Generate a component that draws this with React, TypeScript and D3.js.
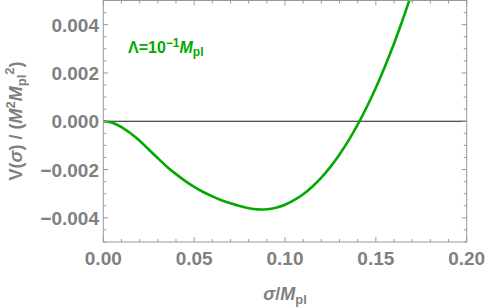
import React, { useEffect, useRef } from "react";
import * as d3 from "d3";

// sigma / M_pl sample points
const sigmaVals = [
  0, 0.005, 0.01, 0.015, 0.02, 0.025, 0.03, 0.035, 0.04, 0.045, 0.05, 0.055,
  0.06, 0.065, 0.07, 0.075, 0.08, 0.085, 0.09, 0.095, 0.1, 0.105, 0.11, 0.115,
  0.12, 0.125, 0.13, 0.135, 0.14, 0.145, 0.15, 0.155, 0.16, 0.165, 0.17,
];
// V(sigma) / (M^2 Mpl^2), in units of 1e-3
const potentialVals = [
  0, -0.06, -0.24, -0.5, -0.81, -1.17, -1.53, -1.88, -2.19, -2.47, -2.72, -2.93,
  -3.11, -3.27, -3.4, -3.51, -3.6, -3.65, -3.645, -3.58, -3.457, -3.271, -3.023,
  -2.711, -2.334, -1.889, -1.376, -0.793, -0.139, 0.588, 1.389, 2.266, 3.22,
  4.253, 5.365,
];
const xTickVals = [0, 0.05, 0.1, 0.15, 0.2];
const xTickLabels = ["0.00", "0.05", "0.10", "0.15", "0.20"];
const yTickVals = [-0.004, -0.002, 0, 0.002, 0.004];
const yTickLabels = ["\u22120.004", "\u22120.002", "0.000", "0.002", "0.004"];

const App = () => {
  const ref = useRef(null);

  useEffect(() => {
    const width = 490;
    const height = 307;
    const left = 103.3;
    const right = 466.7;
    const top = 0.5;
    const bottom = 242;
    const gray = "#999999";
    const labelGray = "#808080";
    const green = "#00aa00";
    const font = "'Liberation Sans', Arial, sans-serif";

    const svg = d3.select(ref.current);
    svg.selectAll("*").remove();
    svg.attr("width", width).attr("height", height);

    const x = d3.scaleLinear().domain([0, 0.2]).range([left, right]);
    const y = d3.scaleLinear().domain([-0.005, 0.005]).range([bottom, top]);

    svg.append("defs").append("clipPath").attr("id", "plotclip")
      .append("rect")
      .attr("x", left).attr("y", top)
      .attr("width", right - left).attr("height", bottom - top);

    // zero line
    svg.append("line")
      .attr("x1", left).attr("x2", right)
      .attr("y1", y(0)).attr("y2", y(0))
      .attr("stroke", "#1a1a1a").attr("stroke-width", 1);

    // curve
    const data = sigmaVals.map((s, i) => [s, potentialVals[i] * 1e-3]);
    const line = d3.line()
      .x((d) => x(d[0]))
      .y((d) => y(d[1]))
      .curve(d3.curveNatural);
    svg.append("path")
      .datum(data)
      .attr("d", line)
      .attr("clip-path", "url(#plotclip)")
      .attr("fill", "none")
      .attr("stroke", green)
      .attr("stroke-width", 2.6);

    // frame
    svg.append("rect")
      .attr("x", left).attr("y", top)
      .attr("width", right - left).attr("height", bottom - top)
      .attr("fill", "none").attr("stroke", gray).attr("stroke-width", 1);

    // ticks on all four sides
    const ticks = svg.append("g").attr("stroke", gray).attr("stroke-width", 1);
    const xMinor = d3.range(0, 0.2001, 0.01);
    xMinor.forEach((v, i) => {
      const len = i % 5 === 0 ? 5 : 3;
      ticks.append("line").attr("x1", x(v)).attr("x2", x(v)).attr("y1", bottom).attr("y2", bottom - len);
      ticks.append("line").attr("x1", x(v)).attr("x2", x(v)).attr("y1", top).attr("y2", top + len);
    });
    const yMinor = d3.range(-0.005, 0.00501, 0.0005);
    yMinor.forEach((v) => {
      const major = Math.abs(Math.round(v * 1e4) % 20) === 0;
      const len = major ? 5 : 3;
      ticks.append("line").attr("x1", left).attr("x2", left + len).attr("y1", y(v)).attr("y2", y(v));
      ticks.append("line").attr("x1", right).attr("x2", right - len).attr("y1", y(v)).attr("y2", y(v));
    });

    // tick labels
    svg.append("g")
      .selectAll("text")
      .data(xTickVals)
      .enter()
      .append("text")
      .attr("x", (d) => x(d))
      .attr("y", 264.5)
      .attr("text-anchor", "middle")
      .style("font-family", font)
      .style("font-weight", "bold")
      .style("font-size", "19px")
      .style("fill", labelGray)
      .text((d, i) => xTickLabels[i]);

    svg.append("g")
      .selectAll("text")
      .data(yTickVals)
      .enter()
      .append("text")
      .attr("x", 99)
      .attr("y", (d) => y(d) + 7)
      .attr("text-anchor", "end")
      .style("font-family", font)
      .style("font-weight", "bold")
      .style("font-size", "19px")
      .style("fill", labelGray)
      .text((d, i) => yTickLabels[i]);

    // x axis label
    const xl = svg.append("text")
      .attr("x", 285).attr("y", 300)
      .attr("text-anchor", "middle")
      .style("font-family", font)
      .style("font-weight", "bold")
      .style("font-size", "18px")
      .style("fill", labelGray);
    xl.append("tspan").style("font-style", "italic").text("\u03c3");
    xl.append("tspan").text("/");
    xl.append("tspan").style("font-style", "italic").text("M");
    xl.append("tspan").attr("dy", 4).style("font-size", "13px").text("pl");

    // y axis label
    const yl = svg.append("text")
      .attr("transform", `translate(22,121) rotate(-90)`)
      .attr("text-anchor", "middle")
      .style("font-family", font)
      .style("font-weight", "bold")
      .style("font-size", "18px")
      .style("fill", labelGray);
    yl.append("tspan").text("V(");
    yl.append("tspan").style("font-style", "italic").text("\u03c3");
    yl.append("tspan").text(") / (");
    yl.append("tspan").style("font-style", "italic").text("M");
    yl.append("tspan").attr("dy", -7).style("font-size", "13px").text("2");
    yl.append("tspan").attr("dy", 7).style("font-style", "italic").text("M");
    yl.append("tspan").attr("dy", 4).style("font-size", "13px").text("pl");
    yl.append("tspan").attr("dy", -12).style("font-size", "13px").text("2");
    yl.append("tspan").attr("dy", 8).text(")");

    // annotation
    const ann = svg.append("text")
      .attr("x", 128).attr("y", 53)
      .style("font-family", font)
      .style("font-weight", "bold")
      .style("font-size", "16px")
      .style("fill", green);
    ann.append("tspan").text("\u039b=10");
    ann.append("tspan").attr("dy", -6).style("font-size", "12px").text("\u22121");
    ann.append("tspan").attr("dy", 6).style("font-style", "italic").text("M");
    ann.append("tspan").attr("dy", 3).style("font-size", "12px").text("pl");
  }, []);

  return <svg ref={ref} style={{ position: "absolute", left: 0, top: 0 }}></svg>;
};

export default App;
